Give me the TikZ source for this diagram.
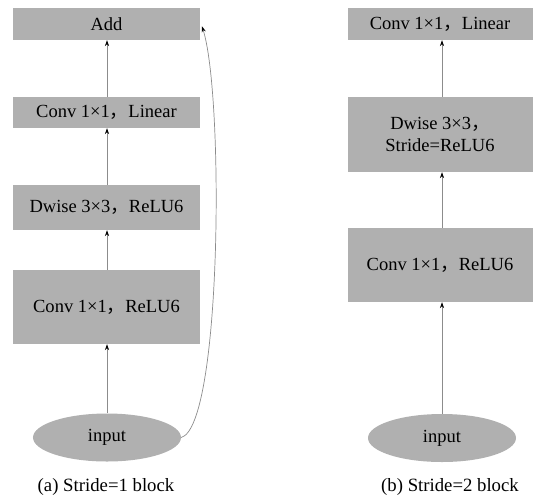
\documentclass[tikz,border=0pt]{standalone}
\usepackage{fontspec}
\setmainfont{Liberation Serif}
\newfontfamily\cjk{Noto Sans CJK SC}
\usetikzlibrary{shapes.geometric, arrows.meta}
\newcommand{\zh}{{\cjk ，}}
\tikzset{
    mbBlock/.style={
        draw=none, fill=black!31, align=center, font=\fontsize{15.8}{19}\selectfont, inner sep=2pt
    },
    mbInput/.style={
        ellipse, draw=none, fill=black!31, minimum width=4.44cm, minimum height=1.44cm, font=\fontsize{15.8}{19}\selectfont, inner sep=0pt
    },
    mbArrow/.style={
        -{Stealth[length=5pt, width=3.5pt, black]}, line width=0.6pt, draw=black!45
    },
    mbCaption/.style={
        font=\fontsize{16}{19}\selectfont
    }
}
\begin{document}
\begin{tikzpicture}[x=0.03cm, y=-0.03cm]
    \useasboundingbox (0,0) rectangle (533,501);

    % ── (a) STRIDE = 1 BLOCK
    \node[mbBlock, minimum width=5.61cm, minimum height=0.96cm] (addA) at (106.5, 24) {Add};
    \node[mbBlock, minimum width=5.61cm, minimum height=0.93cm] (linA) at (106.5, 112.5) {Conv 1×1\zh Linear};
    \node[mbBlock, minimum width=5.61cm, minimum height=1.35cm] (dwA) at (106.5, 207.5) {Dwise 3×3\zh ReLU6};
    \node[mbBlock, minimum width=5.61cm, minimum height=2.22cm] (expA) at (106.5, 307) {Conv 1×1\zh ReLU6};
    \node[mbInput] (inA) at (107, 437.5) {input};
    \node[mbCaption] (capA) at (106, 487) {(a) Stride=1 block};
    \coordinate (addIn) at ([xshift=1.5pt, yshift=-2pt]addA.east);

    % ── (b) STRIDE = 2 BLOCK
    \node[mbBlock, minimum width=5.55cm, minimum height=0.96cm] (linB) at (440, 24) {Conv 1×1\zh Linear};
    \node[mbBlock, minimum width=5.55cm, minimum height=2.25cm] (dwB) at (440, 134.5) {Dwise 3×3\zh\\Stride=ReLU6};
    \node[mbBlock, minimum width=5.55cm, minimum height=2.22cm] (expB) at (440, 265) {Conv 1×1\zh ReLU6};
    \node[mbInput] (inB) at (442, 438) {input};
    \node[mbCaption] (capB) at (450, 487) {(b) Stride=2 block};

    % ── CONNECTORS
    \draw[mbArrow] (inA.north) -- (inA.north |- expA.south);
    \draw[mbArrow] (inA.north |- expA.north) -- (inA.north |- dwA.south);
    \draw[mbArrow] (inA.north |- dwA.north) -- (inA.north |- linA.south);
    \draw[mbArrow] (inA.north |- linA.north) -- (inA.north |- addA.south);
    \draw[mbArrow] (inA.east) .. controls (222, 426) and (224, 95) .. (addIn);

    \draw[mbArrow] (inB.north) -- (inB.north |- expB.south);
    \draw[mbArrow] (inB.north |- expB.north) -- (inB.north |- dwB.south);
    \draw[mbArrow] (inB.north |- dwB.north) -- (inB.north |- linB.south);
\end{tikzpicture}
\end{document}
